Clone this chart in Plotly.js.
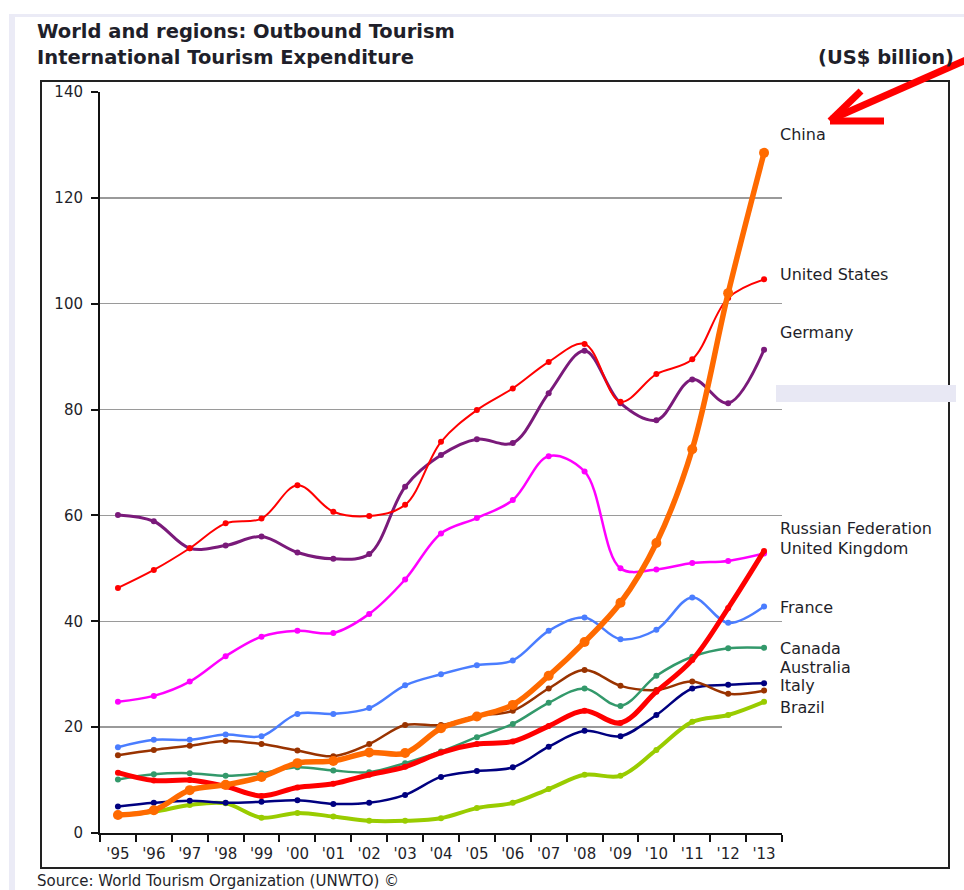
<!DOCTYPE html>
<html>
<head>
<meta charset="utf-8">
<script src="https://cdn.plot.ly/plotly-3.0.1.min.js"></script>
<style>
  html, body { margin: 0; padding: 0; background: #fff; }
  #chart { width: 964px; height: 890px; }
</style>
</head>
<body>
<div id="chart"></div>
<script>
// years on the x axis
const years = ["'95", "'96", "'97", "'98", "'99", "'00", "'01", "'02", "'03", "'04",
               "'05", "'06", "'07", "'08", "'09", "'10", "'11", "'12", "'13"];

// International tourism expenditure, US$ billion
const china     = [3.4, 4.3, 8.1, 9.1, 10.6, 13.2, 13.6, 15.2, 15.1, 19.8, 22.0, 24.2, 29.7, 36.1, 43.5, 54.8, 72.5, 102.0, 128.5];
const usa       = [46.3, 49.7, 53.8, 58.5, 59.4, 65.7, 60.7, 59.9, 62.0, 73.9, 79.9, 84.0, 89.0, 92.4, 81.5, 86.7, 89.5, 101.1, 104.6];
const germany   = [60.1, 58.9, 53.8, 54.3, 56.0, 53.0, 51.8, 52.7, 65.4, 71.4, 74.4, 73.7, 83.1, 91.1, 81.2, 78.0, 85.7, 81.2, 91.3];
const russia    = [11.4, 9.9, 10.0, 8.8, 7.0, 8.6, 9.3, 11.0, 12.5, 15.2, 16.8, 17.3, 20.2, 23.1, 20.8, 26.7, 32.7, 42.5, 53.3];
const uk        = [24.8, 25.9, 28.6, 33.4, 37.1, 38.2, 37.8, 41.4, 47.9, 56.6, 59.5, 62.9, 71.2, 68.3, 50.0, 49.8, 51.0, 51.4, 52.8];
const france    = [16.2, 17.6, 17.6, 18.6, 18.3, 22.5, 22.5, 23.6, 27.9, 30.0, 31.7, 32.6, 38.2, 40.7, 36.6, 38.4, 44.5, 39.7, 42.8];
const canada    = [10.1, 11.1, 11.3, 10.8, 11.3, 12.4, 11.8, 11.5, 13.2, 15.4, 18.1, 20.6, 24.6, 27.3, 24.0, 29.7, 33.3, 34.9, 35.0];
const australia = [14.7, 15.7, 16.5, 17.4, 16.8, 15.6, 14.5, 16.8, 20.4, 20.4, 22.1, 23.1, 27.3, 30.8, 27.8, 27.0, 28.6, 26.3, 26.9];
const italy     = [5.0, 5.7, 6.1, 5.7, 5.9, 6.2, 5.5, 5.7, 7.2, 10.6, 11.7, 12.4, 16.3, 19.3, 18.3, 22.3, 27.3, 28.0, 28.3];
const brazil    = [3.4, 4.0, 5.3, 5.6, 2.9, 3.8, 3.1, 2.3, 2.3, 2.8, 4.7, 5.7, 8.3, 11.0, 10.8, 15.7, 21.0, 22.3, 24.8];

const yTicks = [0, 20, 40, 60, 80, 100, 120, 140];

// plot area in page pixels
const L = 100, R = 782, T = 92, B = 833;
const px = x => (x - L) / (R - L);
const py = y => (B - y) / (B - T);

const FONT = 'DejaVu Sans, Arial, sans-serif';
const TEXT = '#1f1f2a';

function series(name, y, color, width, msize) {
  return {
    x: years, y: y, name: name, type: 'scatter', mode: 'lines+markers',
    line: { color: color, width: width, shape: 'spline', smoothing: 1 },
    marker: { color: color, size: msize },
    hoverinfo: 'name+y'
  };
}

const traces = [
  series('Brazil', brazil, '#99cc00', 4, 6),
  series('Italy', italy, '#000080', 2.5, 6),
  series('Australia', australia, '#993300', 2.5, 6),
  series('Canada', canada, '#33996b', 2.5, 6),
  series('France', france, '#4a7dff', 2.5, 6),
  series('United Kingdom', uk, '#ff00ff', 2.5, 6),
  series('Germany', germany, '#7a1a7a', 3, 6),
  series('United States', usa, '#ff0000', 2, 6),
  series('Russian Federation', russia, '#ff0000', 5, 6),
  series('China', china, '#ff6a00', 5.5, 10)
];

// end labels: [text, y value of label]
const endLabels = [
  ['China', 131.9], ['United States', 105.6], ['Germany', 94.5],
  ['Russian Federation', 57.6], ['United Kingdom', 53.7], ['France', 42.7],
  ['Canada', 34.9], ['Australia', 31.2], ['Italy', 27.8], ['Brazil', 23.8]
];

const annotations = endLabels.map(l => ({
  text: l[0], xref: 'paper', yref: 'y', x: px(778), y: l[1],
  xanchor: 'left', yanchor: 'middle', showarrow: false,
  font: { family: FONT, size: 16, color: TEXT }
}));

annotations.push(
  { text: '<b>World and regions: Outbound Tourism</b>', xref: 'paper', yref: 'paper',
    x: px(35), y: py(31), xanchor: 'left', yanchor: 'middle', showarrow: false,
    font: { family: FONT, size: 19.5, color: TEXT } },
  { text: '<b>International Tourism Expenditure</b>', xref: 'paper', yref: 'paper',
    x: px(35), y: py(57), xanchor: 'left', yanchor: 'middle', showarrow: false,
    font: { family: FONT, size: 19.5, color: TEXT } },
  { text: '<b>(US$ billion)</b>', xref: 'paper', yref: 'paper',
    x: px(956), y: py(57), xanchor: 'right', yanchor: 'middle', showarrow: false,
    font: { family: FONT, size: 19.5, color: TEXT } },
  { text: 'Source: World Tourism Organization (UNWTO) ©', xref: 'paper', yref: 'paper',
    x: px(35), y: py(881), xanchor: 'left', yanchor: 'middle', showarrow: false,
    font: { family: FONT, size: 15, color: TEXT } }
);

const lav = '#ebebf6';
const shapes = [
  // slide border strips
  { type: 'rect', xref: 'paper', yref: 'paper', x0: px(9), x1: px(15), y0: py(14), y1: py(890),
    fillcolor: lav, line: { width: 0 }, layer: 'below' },
  { type: 'rect', xref: 'paper', yref: 'paper', x0: px(9), x1: px(964), y0: py(14), y1: py(17),
    fillcolor: lav, line: { width: 0 }, layer: 'below' },
  // chart frame
  { type: 'rect', xref: 'paper', yref: 'paper', x0: px(41), x1: px(949), y0: py(868), y1: py(81),
    line: { color: '#222', width: 2 }, layer: 'below' },
  // lavender patch
  { type: 'rect', xref: 'paper', yref: 'paper', x0: px(776), x1: px(956), y0: py(402), y1: py(385),
    fillcolor: '#e8e8f4', line: { width: 0 }, layer: 'below' },
  // red arrow
  { type: 'line', xref: 'paper', yref: 'paper', x0: px(966), y0: py(60), x1: px(832), y1: py(119),
    line: { color: '#ff0000', width: 7 } },
  { type: 'line', xref: 'paper', yref: 'paper', x0: px(830), y0: py(121), x1: px(861), y1: py(91),
    line: { color: '#ff0000', width: 7 } },
  { type: 'line', xref: 'paper', yref: 'paper', x0: px(830), y0: py(121), x1: px(884), y1: py(121),
    line: { color: '#ff0000', width: 7 } }
];

const layout = {
  width: 964, height: 890,
  margin: { l: L, r: 964 - R, t: T, b: 890 - B, pad: 0 },
  paper_bgcolor: '#fff', plot_bgcolor: '#fff',
  showlegend: false,
  font: { family: FONT, color: TEXT },
  xaxis: {
    type: 'category', range: [-0.5, years.length - 0.5],
    showgrid: false, zeroline: false,
    showline: true, linecolor: '#111', linewidth: 2,
    ticks: 'outside', tickson: 'boundaries', ticklen: 7, tickwidth: 2, tickcolor: '#111',
    ticklabelstandoff: 6,
    tickfont: { family: FONT, size: 15, color: TEXT }
  },
  yaxis: {
    range: [0, 140], tickvals: yTicks,
    showgrid: true, gridcolor: '#9a9a9a', gridwidth: 1.5,
    zeroline: false, showline: true, linecolor: '#111', linewidth: 2,
    ticks: 'outside', ticklen: 7, tickwidth: 2, tickcolor: '#111',
    ticklabelstandoff: 5,
    tickfont: { family: FONT, size: 15, color: TEXT }
  },
  annotations: annotations,
  shapes: shapes
};

Plotly.newPlot('chart', traces, layout, { displayModeBar: false, staticPlot: true });
</script>
</body>
</html>
